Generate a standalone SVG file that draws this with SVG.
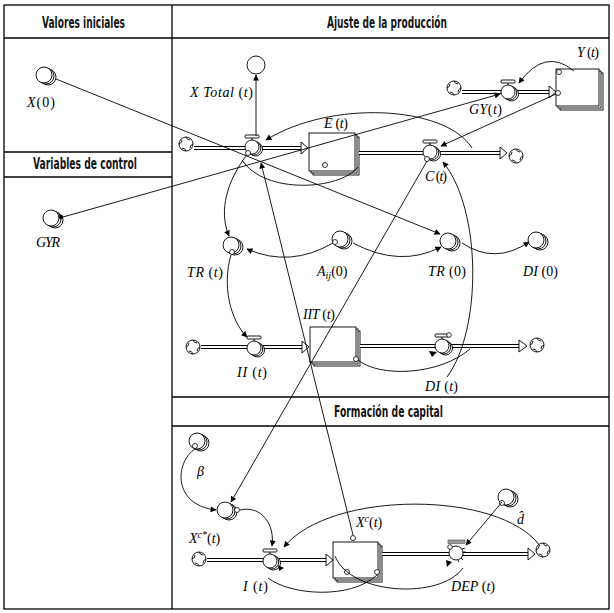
<svg xmlns="http://www.w3.org/2000/svg" width="614" height="613" viewBox="0 0 614 613">
<style>
.tbl{fill:none;stroke:#000;stroke-width:1.3}
.hd{font-family:"Liberation Sans Narrow","DejaVu Sans Condensed","Liberation Sans",sans-serif;font-weight:bold;font-size:15.5px;fill:#141414}
.lb{font-family:"Liberation Serif","DejaVu Serif",serif;font-style:italic;font-size:14px;fill:#000}
.u{font-style:normal}
.nd{fill:#fff;stroke:#000;stroke-width:0.9}
.po{fill:none;stroke:#000;stroke-width:4}
.pi{fill:none;stroke:#fff;stroke-width:2}
.ph{fill:#fff;stroke:#000;stroke-width:0.9}
.ln{fill:none;stroke:#000;stroke-width:0.9}
.mk{fill:#fff;stroke:#000;stroke-width:0.8}
.ar{marker-end:url(#ah)}
</style>
<defs>
<marker id="ah" viewBox="0 0 10 10" refX="9" refY="5" markerWidth="7" markerHeight="6" orient="auto" markerUnits="userSpaceOnUse"><path d="M0,0 L10,5 L0,10 z" fill="#000"/></marker>
<g id="aux"><circle class="nd" cx="4" cy="2" r="8"/><circle class="nd" cx="2" cy="1" r="8"/><circle class="nd" r="8"/></g>
<g id="valve"><circle class="nd" cx="3.5" cy="2" r="7"/><circle class="nd" cx="1.8" cy="1" r="7"/><circle class="nd" r="7"/><line class="ln" x1="0" y1="-9" x2="0" y2="-7"/><rect class="nd" x="-7" y="-12" width="14" height="3" rx="1"/></g>
<g id="cloud"><circle class="nd" r="7"/><path class="ln" d="M-7,0 q3,-1 3,-4 M0,-7 q1,3 4,3 M7,0 q-3,1 -3,4 M0,7 q-1,-3 -4,-3"/></g>
</defs>
<rect width="614" height="613" fill="#fff"/>

<g id="table">
<rect class="tbl" x="4" y="5" width="605" height="604"/>
<line class="tbl" x1="172" y1="5" x2="172" y2="609"/>
<line class="tbl" x1="4" y1="38" x2="609" y2="38"/>
<line class="tbl" x1="4" y1="152" x2="172" y2="152"/>
<line class="tbl" x1="4" y1="177" x2="172" y2="177"/>
<line class="tbl" x1="172" y1="397" x2="609" y2="397"/>
<line class="tbl" x1="172" y1="426" x2="609" y2="426"/>
<text class="hd" x="42" y="28" textLength="83" lengthAdjust="spacingAndGlyphs">Valores iniciales</text>
<text class="hd" x="327" y="28" textLength="120" lengthAdjust="spacingAndGlyphs">Ajuste de la producción</text>
<text class="hd" x="33" y="169" textLength="104" lengthAdjust="spacingAndGlyphs">Variables de control</text>
<text class="hd" x="334" y="417" textLength="109" lengthAdjust="spacingAndGlyphs">Formación de capital</text>
</g>

<g id="n-x0"><use href="#aux" x="44" y="75"/><text class="lb" x="27" y="107" textLength="28"><tspan>X</tspan><tspan class="u">(0)</tspan></text></g>
<g id="n-gyr"><use href="#aux" x="51" y="218"/><circle cx="61" cy="217" r="2.3" fill="#000"/><text class="lb" x="36" y="247" textLength="24">GYR</text></g>
<g id="n-xtotal"><circle class="nd" cx="256" cy="65" r="9"/><text class="lb" x="190" y="97" textLength="63">X Total <tspan class="u">(</tspan>t<tspan class="u">)</tspan></text></g>

<g id="f-x"><use href="#cloud" x="186" y="144"/><path class="po" d="M194,148 H301"/><path class="pi" d="M194,148 H301"/><polygon class="ph" points="301,142 308,148 301,154"/><use href="#valve" x="252" y="147"/><circle class="mk" cx="248" cy="153" r="2.5"/></g>
<g id="s-e"><rect class="nd" x="313" y="137" width="46" height="38"/><rect class="nd" x="311" y="135" width="46" height="38"/><rect class="nd" x="309" y="133" width="46" height="38"/><circle class="mk" cx="325" cy="165" r="2.5"/><text class="lb" x="324" y="128" font-size="12" textLength="24">E <tspan class="u">(</tspan>t<tspan class="u">)</tspan></text></g>
<g id="f-c"><path class="po" d="M359,153 H500"/><path class="pi" d="M359,153 H500"/><polygon class="ph" points="500,147 507,153 500,159"/><use href="#cloud" x="516" y="156"/><use href="#valve" x="430" y="152"/><circle class="mk" cx="427" cy="159" r="2.5"/><text class="lb" x="425" y="181" textLength="22">C <tspan class="u">(</tspan>t<tspan class="u">)</tspan></text></g>
<g id="f-gy"><use href="#cloud" x="454" y="88"/><path class="po" d="M462,92 H549"/><path class="pi" d="M462,92 H549"/><polygon class="ph" points="549,86 556,92 549,98"/><use href="#valve" x="508" y="92"/><text class="lb" x="469" y="114" textLength="33">GY<tspan class="u">(</tspan>t<tspan class="u">)</tspan></text></g>
<g id="s-y"><rect class="nd" x="560" y="73" width="43" height="37"/><rect class="nd" x="558" y="71" width="43" height="37"/><rect class="nd" x="556" y="69" width="43" height="37"/><circle class="mk" cx="559" cy="72" r="2.5"/><circle class="mk" cx="558" cy="93" r="2.5"/><text class="lb" x="577" y="57" textLength="22">Y <tspan class="u">(</tspan>t<tspan class="u">)</tspan></text></g>

<g id="n-trt"><use href="#aux" x="231" y="245"/><circle class="mk" cx="232" cy="252" r="2.5"/><text class="lb" x="187" y="277" textLength="36">TR <tspan class="u">(</tspan>t<tspan class="u">)</tspan></text></g>
<g id="n-aij"><use href="#aux" x="340" y="239"/><circle class="mk" cx="335" cy="242" r="2.5"/><text class="lb" x="317" y="276">A<tspan dy="3" font-size="10">ij</tspan><tspan dy="-3" class="u">(0)</tspan></text></g>
<g id="n-tr0"><use href="#aux" x="448" y="241"/><text class="lb" x="428" y="276" textLength="38">TR <tspan class="u">(0)</tspan></text></g>
<g id="n-di0"><use href="#aux" x="536" y="240"/><text class="lb" x="523" y="276" textLength="35">DI <tspan class="u">(0)</tspan></text></g>

<g id="f-ii"><use href="#cloud" x="193" y="347"/><path class="po" d="M201,347 H302"/><path class="pi" d="M201,347 H302"/><polygon class="ph" points="302,341 309,347 302,353"/><use href="#valve" x="254" y="348"/><text class="lb" x="237" y="377" textLength="30">II <tspan class="u">(</tspan>t<tspan class="u">)</tspan></text></g>
<g id="s-iit"><rect class="nd" x="314" y="331" width="46" height="35"/><rect class="nd" x="312" y="329" width="46" height="35"/><rect class="nd" x="310" y="327" width="46" height="35"/><circle class="mk" cx="356" cy="359" r="2.5"/><text class="lb" x="303" y="319" font-size="12" textLength="32">IIT <tspan class="u">(</tspan>t<tspan class="u">)</tspan></text></g>
<g id="f-di"><path class="po" d="M360,346 H519"/><path class="pi" d="M360,346 H519"/><polygon class="ph" points="519,340 527,346 519,352"/><use href="#cloud" x="537" y="345"/><use href="#valve" x="442" y="346"/><circle class="mk" cx="449" cy="335" r="2.3"/><polygon points="429,351 437,352 432,357" fill="#000"/><text class="lb" x="425" y="391" textLength="33">DI <tspan class="u">(</tspan>t<tspan class="u">)</tspan></text></g>

<g id="n-beta"><use href="#aux" x="197" y="441"/><circle class="mk" cx="195" cy="446" r="2.5"/><text class="lb" x="197" y="476">β</text></g>
<g id="n-aux"><use href="#aux" x="225" y="510"/><circle class="mk" cx="237" cy="510" r="2.5"/></g>
<g id="f-i"><use href="#cloud" x="199" y="559"/><path class="po" d="M207,560 H326"/><path class="pi" d="M207,560 H326"/><polygon class="ph" points="326,554 333,560 326,566"/><use href="#valve" x="270" y="561"/><polygon points="278,565 284,568 279,571" fill="#000"/><text class="lb" x="189" y="543">X<tspan dy="-5" font-size="10">c*</tspan><tspan dy="5" class="u">(</tspan>t<tspan class="u">)</tspan></text><text class="lb" x="243" y="591" textLength="25">I <tspan class="u">(</tspan>t<tspan class="u">)</tspan></text></g>
<g id="s-xc"><rect class="nd" x="337" y="546" width="45" height="36"/><rect class="nd" x="335" y="544" width="45" height="36"/><rect class="nd" x="333" y="542" width="45" height="36"/><circle class="mk" cx="353" cy="538" r="2.5"/><circle class="mk" cx="347" cy="572" r="2.5"/><circle class="mk" cx="377" cy="572" r="2.5"/><text class="lb" x="356" y="527">X<tspan dy="-5" font-size="10">c</tspan><tspan dy="5" class="u">(</tspan>t<tspan class="u">)</tspan></text></g>
<g id="f-dep"><path class="po" d="M382,554 H528"/><path class="pi" d="M382,554 H528"/><polygon class="ph" points="528,548 535,554 528,560"/><use href="#cloud" x="543" y="550"/><circle class="nd" cx="456" cy="553" r="7"/><path class="ln" d="M462,549 l3,-1 M463,552 l3,0 M463,555 l3,1 M461,558 l2,2 M458,560 l1,2"/><rect x="448" y="540" width="17" height="3.5" fill="#999" stroke="#555" stroke-width="0.6"/><circle class="mk" cx="450" cy="547" r="2.3"/><polygon points="446,560 452,562 447,567" fill="#000"/><text class="lb" x="451" y="591" textLength="44">DEP <tspan class="u">(</tspan>t<tspan class="u">)</tspan></text></g>
<g id="n-dhat"><use href="#aux" x="506" y="497"/><circle class="mk" cx="502" cy="503" r="2.5"/><text class="lb" x="517" y="524">d̂</text></g>

<g id="connectors">
<path class="ln ar" d="M56,79 L440,234"/>
<path class="ln ar" d="M63,217 L500,94"/>
<path class="ln ar" d="M256,136 L256,75"/>
<path class="ln ar" d="M574,71 Q545,47 519,83"/>
<path class="ln ar" d="M556,94 L441,146"/>
<path class="ln ar" d="M472,148 C445,105 330,100 266,140"/>
<path class="ln" d="M242,160 C265,195 340,190 358,167"/>
<path class="ln ar" d="M246,156 C228,180 218,210 229,236"/>
<path class="ln ar" d="M353,535 L261,163"/>
<path class="ln ar" d="M427,161 L231,502"/>
<path class="ln ar" d="M447,377 C482,330 482,210 443,162"/>
<path class="ln ar" d="M333,243 Q290,268 247,249"/>
<path class="ln ar" d="M353,243 Q400,268 441,247"/>
<path class="ln ar" d="M462,243 Q495,265 529,242"/>
<path class="ln ar" d="M231,255 C222,285 230,320 247,337"/>
<path class="ln" d="M358,360 C380,378 440,375 470,349"/>
<path class="ln ar" d="M195,449 C175,462 172,505 216,510"/>
<path class="ln ar" d="M240,510 C262,505 275,525 272,546"/>
<path class="ln ar" d="M540,546 C500,490 330,490 284,547"/>
<path class="ln ar" d="M502,502 L466,545"/>
<path class="ln" d="M377,575 C350,600 290,595 268,578"/>
<path class="ln" d="M335,556 C350,595 440,600 463,568"/>
</g>
</svg>
